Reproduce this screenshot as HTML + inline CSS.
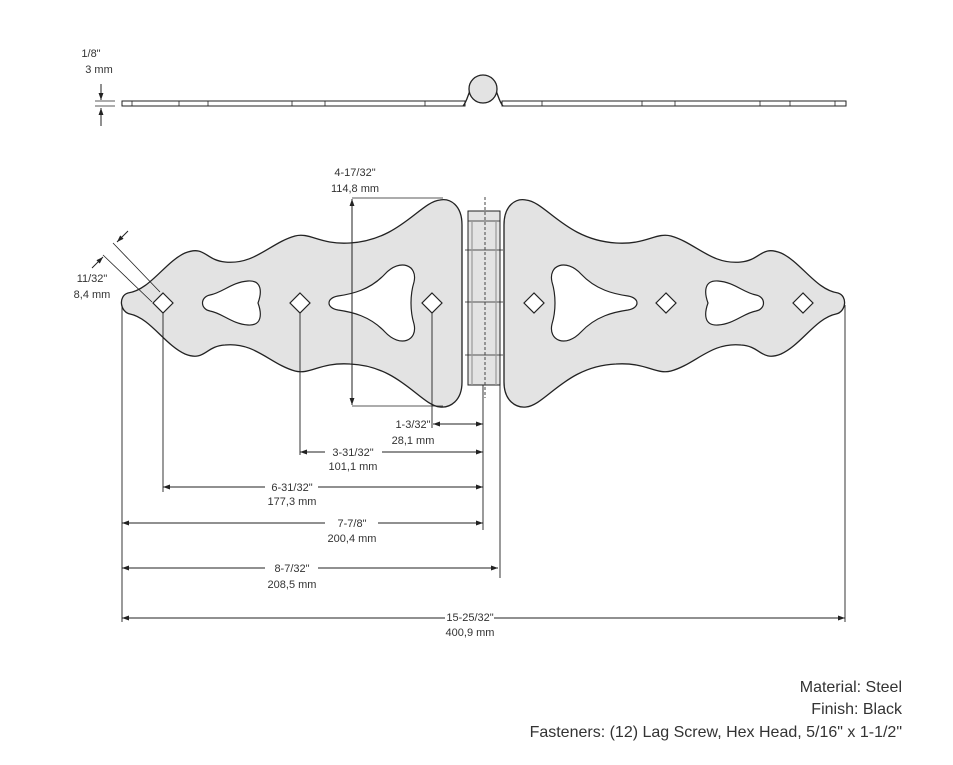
<!DOCTYPE html>
<html><head><meta charset="utf-8"><style>
body{margin:0;background:#fff}
svg{display:block}
text{font-family:"Liberation Sans",sans-serif;font-size:11px;fill:#333}
.b{font-size:16px;fill:#333}
</style></head><body>
<svg width="953" height="765" viewBox="0 0 953 765" xmlns="http://www.w3.org/2000/svg">
<defs>
<marker id="a" viewBox="0 0 10 10" refX="10" refY="5" markerWidth="7" markerHeight="7" orient="auto-start-reverse"><path d="M0,1.5 L10,5 L0,8.5z" fill="#222"/></marker>
<g id="leaf">
<path d="M462,225 C462,205 450,198 440,200 C420,202 400,240 350,243 C320,245 310,232 295,236 C270,243 255,265 225,262 C205,260 205,245 185,253 C165,262 150,290 128,293 C118,296 120,312 130,314 C150,318 165,345 185,354 C205,362 205,346 225,345 C255,342 270,364 295,371 C310,375 320,362 350,364 C400,366 420,405 440,407 C450,408 462,401 462,382 Z" fill="#e3e3e3" stroke="#222" stroke-width="1.3"/>
<path d="M163,293 L173,303 L163,313 L153,303Z M300,293 L310,303 L300,313 L290,303Z M432,293 L442,303 L432,313 L422,303Z" fill="#fff" stroke="#222" stroke-width="1.2"/>
<path d="M210,295 C222,293 232,282 248,281 C262,280 262,292 258,303 C262,314 262,326 248,325 C232,324 222,313 210,311 C200,309 200,297 210,295Z" fill="#fff" stroke="#222" stroke-width="1.2"/>
<path d="M338,296 C352,294 370,290 385,274 C400,258 418,265 414,282 C410,295 410,311 414,324 C418,341 400,348 385,332 C370,316 352,312 338,310 C326,308 326,298 338,296Z" fill="#fff" stroke="#222" stroke-width="1.2"/>
</g>
</defs>
<!-- top profile -->
<text x="91" y="57" text-anchor="middle">1/8"</text>
<text x="99" y="73" text-anchor="middle">3 mm</text>
<line x1="101" y1="84" x2="101" y2="100" stroke="#222" marker-end="url(#a)"/>
<line x1="101" y1="126" x2="101" y2="108" stroke="#222" marker-end="url(#a)"/>
<line x1="95" y1="101" x2="115" y2="101" stroke="#222" stroke-width=".7"/>
<line x1="95" y1="106" x2="115" y2="106" stroke="#222" stroke-width=".7"/>
<rect x="122" y="101" width="343" height="5" fill="#fff" stroke="#222"/>
<rect x="502" y="101" width="344" height="5" fill="#fff" stroke="#222"/>
<path d="M132,101v5M179,101v5M208,101v5M292,101v5M325,101v5M425,101v5M542,101v5M642,101v5M675,101v5M760,101v5M790,101v5M835,101v5" stroke="#222" stroke-width=".8"/>
<path d="M463,106 C468,100 468,92 472,88 M503,106 C498,100 498,92 494,88" fill="none" stroke="#222" stroke-width="1.3"/>
<circle cx="483" cy="89" r="14" fill="#e3e3e3" stroke="#222" stroke-width="1.3"/>
<!-- leaves -->
<use href="#leaf"/>
<use href="#leaf" transform="translate(966,0) scale(-1,1)"/>
<!-- knuckle -->
<rect x="468" y="211" width="32" height="174" fill="#e3e3e3" stroke="#222"/>
<path d="M465,250H503M465,302H503M465,355H503M468,221H500" stroke="#222" stroke-width=".8"/>
<path d="M472,221V385M496,221V385" stroke="#999" stroke-width="1.2"/>
<line x1="485" y1="197" x2="485" y2="398" stroke="#444" stroke-dasharray="3,2"/>
<!-- vertical dimension -->
<path d="M352,198H443M352,406H443" stroke="#222" stroke-width=".8"/>
<line x1="352" y1="300" x2="352" y2="199" stroke="#222" marker-end="url(#a)"/>
<line x1="352" y1="300" x2="352" y2="405" stroke="#222" marker-end="url(#a)"/>
<text x="355" y="176" text-anchor="middle">4-17/32"</text>
<text x="355" y="192" text-anchor="middle">114,8 mm</text>
<!-- diagonal -->
<path d="M113,243L160,292M103,255L152,302" stroke="#222" stroke-width=".8"/>
<line x1="128" y1="231" x2="117" y2="242" stroke="#222" marker-end="url(#a)"/>
<line x1="92" y1="268" x2="103" y2="257" stroke="#222" marker-end="url(#a)"/>
<text x="92" y="282" text-anchor="middle">11/32"</text>
<text x="92" y="298" text-anchor="middle">8,4 mm</text>
<!-- extension lines -->
<path d="M122,305V622M163,313V492M300,313V455M432,313V428M483,385V530M500,385V578M845,305V622" stroke="#222" stroke-width=".9"/>
<!-- horizontal dims -->
<line x1="433" y1="424" x2="483" y2="424" stroke="#222" marker-start="url(#a)" marker-end="url(#a)"/>
<text x="413" y="428" text-anchor="middle">1-3/32"</text>
<text x="413" y="444" text-anchor="middle">28,1 mm</text>
<path d="M300,452H325M382,452H483" stroke="#222"/>
<line x1="315" y1="452" x2="300" y2="452" stroke="#222" marker-end="url(#a)"/>
<line x1="470" y1="452" x2="483" y2="452" stroke="#222" marker-end="url(#a)"/>
<text x="353" y="456" text-anchor="middle">3-31/32"</text>
<text x="353" y="470" text-anchor="middle">101,1 mm</text>
<path d="M163,487H265M318,487H483" stroke="#222"/>
<line x1="180" y1="487" x2="163" y2="487" stroke="#222" marker-end="url(#a)"/>
<line x1="470" y1="487" x2="483" y2="487" stroke="#222" marker-end="url(#a)"/>
<text x="292" y="491" text-anchor="middle">6-31/32"</text>
<text x="292" y="505" text-anchor="middle">177,3 mm</text>
<path d="M122,523H325M378,523H483" stroke="#222"/>
<line x1="140" y1="523" x2="122" y2="523" stroke="#222" marker-end="url(#a)"/>
<line x1="470" y1="523" x2="483" y2="523" stroke="#222" marker-end="url(#a)"/>
<text x="352" y="527" text-anchor="middle">7-7/8"</text>
<text x="352" y="542" text-anchor="middle">200,4 mm</text>
<path d="M122,568H265M318,568H498" stroke="#222"/>
<line x1="140" y1="568" x2="122" y2="568" stroke="#222" marker-end="url(#a)"/>
<line x1="485" y1="568" x2="498" y2="568" stroke="#222" marker-end="url(#a)"/>
<text x="292" y="572" text-anchor="middle">8-7/32"</text>
<text x="292" y="588" text-anchor="middle">208,5 mm</text>
<path d="M122,618H445M494,618H845" stroke="#222"/>
<line x1="140" y1="618" x2="122" y2="618" stroke="#222" marker-end="url(#a)"/>
<line x1="830" y1="618" x2="845" y2="618" stroke="#222" marker-end="url(#a)"/>
<text x="470" y="621" text-anchor="middle">15-25/32"</text>
<text x="470" y="636" text-anchor="middle">400,9 mm</text>
<!-- notes -->
<text class="b" x="902" y="692" text-anchor="end">Material: Steel</text>
<text class="b" x="902" y="714" text-anchor="end">Finish: Black</text>
<text class="b" x="902" y="737" text-anchor="end">Fasteners: (12) Lag Screw, Hex Head, 5/16" x 1-1/2"</text>
</svg>
</body></html>
